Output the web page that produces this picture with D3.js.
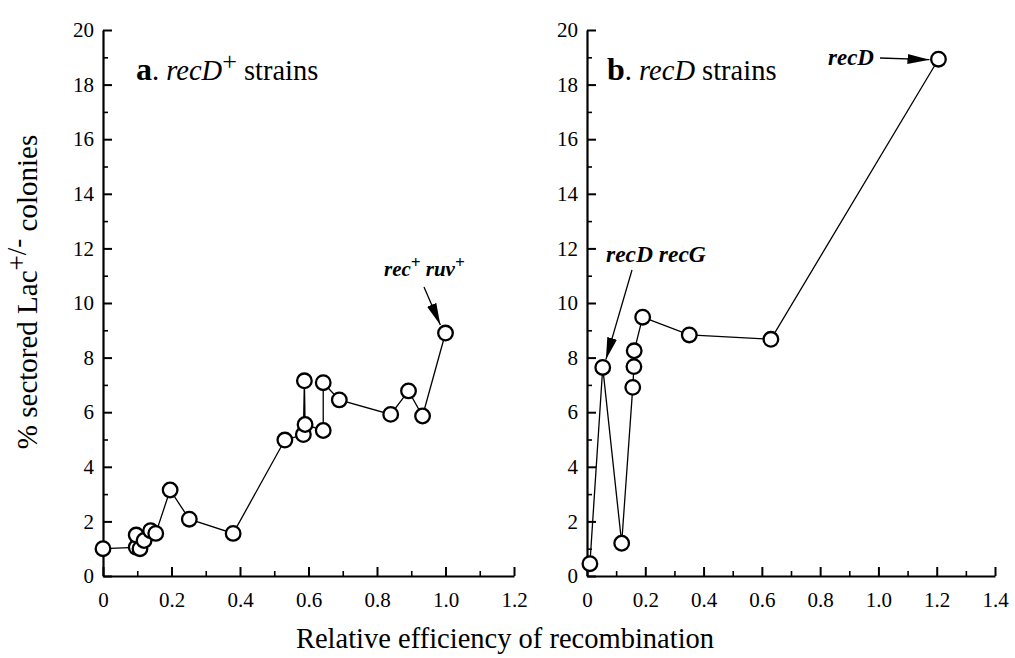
<!DOCTYPE html>
<html><head><meta charset="utf-8">
<script src="https://cdn.jsdelivr.net/npm/d3@7"></script>
<style>
html,body{margin:0;padding:0;background:#fff;}
svg{display:block;}
</style></head>
<body>
<svg id="chart" width="1015" height="658" font-family="Liberation Serif"></svg>
<script>
// ---- data ----
const panelA_x = [0, 0.097, 0.097, 0.108, 0.12, 0.139, 0.154, 0.196, 0.252, 0.38, 0.531, 0.585, 0.588, 0.59, 0.643, 0.643, 0.69, 0.84, 0.892, 0.933, 1.0];
const panelA_y = [1.0, 1.05, 1.5, 1.0, 1.3, 1.66, 1.56, 3.15, 2.08, 1.56, 4.98, 5.18, 7.15, 5.55, 5.33, 7.08, 6.45, 5.92, 6.78, 5.86, 8.9];
const panelB_x = [0.01, 0.054, 0.119, 0.157, 0.161, 0.162, 0.191, 0.351, 0.631, 1.206];
const panelB_y = [0.45, 7.64, 1.2, 6.91, 7.67, 8.25, 9.48, 8.83, 8.67, 18.93];
const yTicks = [0, 2, 4, 6, 8, 10, 12, 14, 16, 18, 20];
const xTicksA = [0, 0.2, 0.4, 0.6, 0.8, 1.0, 1.2];
const xTicksB = [0, 0.2, 0.4, 0.6, 0.8, 1.0, 1.2, 1.4];
const xTickLabelsA = ["0", "0.2", "0.4", "0.6", "0.8", "1.0", "1.2"];
const xTickLabelsB = ["0", "0.2", "0.4", "0.6", "0.8", "1.0", "1.2", "1.4"];
const yLabel = "% sectored Lac";
const xLabel = "Relative efficiency of recombination";

const FONT = "Liberation Serif";
const svg = d3.select("#chart");
const defs = svg.append("defs");
defs.append("marker").attr("id","ah").attr("viewBox","0 0 22 10").attr("refX",22).attr("refY",5)
  .attr("markerWidth",22).attr("markerHeight",10).attr("markerUnits","userSpaceOnUse").attr("orient","auto")
  .append("path").attr("d","M0,0 L22,5 L0,10 Z").attr("fill","#000");

const yScale = d3.scaleLinear().domain([0, 20]).range([576, 30]);

function panel(xDomainMax, xRange, xs, ys, xTicks, xTickLabels) {
  const x = d3.scaleLinear().domain([0, xDomainMax]).range(xRange);
  const g = svg.append("g");
  const minorY = d3.range(1, 20, 2);
  g.append("g").attr("transform", `translate(${xRange[0]},0)`)
    .call(d3.axisLeft(yScale).tickValues(minorY).tickSize(-5).tickFormat(""))
    .call(s => s.select(".domain").remove())
    .call(s => s.selectAll("line").attr("stroke-width", 1.6));
  const minorX = d3.range(0.1, xDomainMax, 0.2);
  g.append("g").attr("transform", `translate(0,${yScale(0)})`)
    .call(d3.axisBottom(x).tickValues(minorX).tickSize(-5).tickFormat(""))
    .call(s => s.select(".domain").remove())
    .call(s => s.selectAll("line").attr("stroke-width", 1.6));
  g.append("g").attr("transform", `translate(${xRange[0]},0)`)
    .call(d3.axisLeft(yScale).tickValues(yTicks).tickSizeInner(-9).tickSizeOuter(0).tickPadding(9).tickFormat(d3.format("d")))
    .attr("font-family", FONT).attr("font-size", 21)
    .call(s => s.select(".domain").attr("stroke-width", 2.2))
    .call(s => s.selectAll("line").attr("stroke-width", 2))
    .call(s => s.selectAll("text").attr("dy", "0.32em"));
  g.append("g").attr("transform", `translate(0,${yScale(0)})`)
    .call(d3.axisBottom(x).tickValues(xTicks).tickSizeInner(-9).tickSizeOuter(0).tickPadding(16).tickFormat((d, i) => xTickLabels[i]))
    .attr("font-family", FONT).attr("font-size", 21)
    .call(s => s.select(".domain").attr("stroke-width", 2.2))
    .call(s => s.selectAll("line").attr("stroke-width", 2))
    .call(s => s.selectAll("text").attr("dy", "0.71em"));
  const pts = xs.map((v, i) => [v, ys[i]]);
  g.append("path").datum(pts)
    .attr("d", d3.line().x(d => x(d[0])).y(d => yScale(d[1])))
    .attr("fill", "none").attr("stroke", "#000").attr("stroke-width", 1.3);
  g.selectAll("circle").data(pts).join("circle")
    .attr("cx", d => x(d[0])).attr("cy", d => yScale(d[1])).attr("r", 7.3)
    .attr("fill", "#fff").attr("stroke", "#000").attr("stroke-width", 2.3);
  return x;
}

const xA = panel(1.2, [103, 514], panelA_x, panelA_y, xTicksA, xTickLabelsA);
const xB = panel(1.4, [587, 995], panelB_x, panelB_y, xTicksB, xTickLabelsB);

const tA = svg.append("text").attr("x", 136).attr("y", 80).attr("font-size", 28.5).attr("font-family", FONT);
tA.append("tspan").attr("font-weight", "bold").attr("font-size", 32).text("a");
tA.append("tspan").text(". ");
tA.append("tspan").attr("font-style", "italic").text("recD");
tA.append("tspan").attr("dy", -10).attr("font-size", 26).text("+");
tA.append("tspan").attr("dy", 10).text(" strains");

const tB = svg.append("text").attr("x", 607).attr("y", 80).attr("font-size", 28.5).attr("font-family", FONT);
tB.append("tspan").attr("font-weight", "bold").attr("font-size", 32).text("b");
tB.append("tspan").text(". ");
tB.append("tspan").attr("font-style", "italic").text("recD");
tB.append("tspan").text(" strains");

const an1 = svg.append("text").attr("x", 384).attr("y", 276).attr("font-size", 21).attr("font-style", "italic").attr("font-weight", "bold").attr("font-family", FONT);
an1.append("tspan").text("rec");
an1.append("tspan").attr("dy", -8).attr("font-size", 17).text("+");
an1.append("tspan").attr("dy", 8).text(" ruv");
an1.append("tspan").attr("dy", -8).attr("font-size", 17).text("+");
svg.append("line").attr("x1", 424).attr("y1", 287).attr("x2", xA(0.985)).attr("y2", yScale(8.9) - 8)
  .attr("stroke", "#000").attr("stroke-width", 1.3).attr("marker-end", "url(#ah)");

svg.append("text").attr("x", 606).attr("y", 262).attr("font-size", 23.5).attr("font-style", "italic").attr("font-weight", "bold").attr("font-family", FONT).text("recD recG");
svg.append("line").attr("x1", 632).attr("y1", 270).attr("x2", xB(0.065)).attr("y2", yScale(7.64) - 8)
  .attr("stroke", "#000").attr("stroke-width", 1.3).attr("marker-end", "url(#ah)");

svg.append("text").attr("x", 828).attr("y", 65).attr("font-size", 23).attr("font-style", "italic").attr("font-weight", "bold").attr("font-family", FONT).text("recD");
svg.append("line").attr("x1", 880).attr("y1", 58).attr("x2", xB(1.206) - 9).attr("y2", yScale(18.93) + 0.5)
  .attr("stroke", "#000").attr("stroke-width", 1.3).attr("marker-end", "url(#ah)");

svg.append("text").attr("x", 505).attr("y", 648).attr("text-anchor", "middle").attr("font-size", 28.5).attr("font-family", FONT).text(xLabel);
const yt = svg.append("text").attr("transform", "translate(37,292) rotate(-90)").attr("text-anchor", "middle").attr("font-size", 29).attr("font-family", FONT);
yt.append("tspan").text(yLabel);
yt.append("tspan").attr("dy", -11).attr("font-size", 27).text("+/-");
yt.append("tspan").attr("dy", 11).text(" colonies");
</script>
</body></html>
